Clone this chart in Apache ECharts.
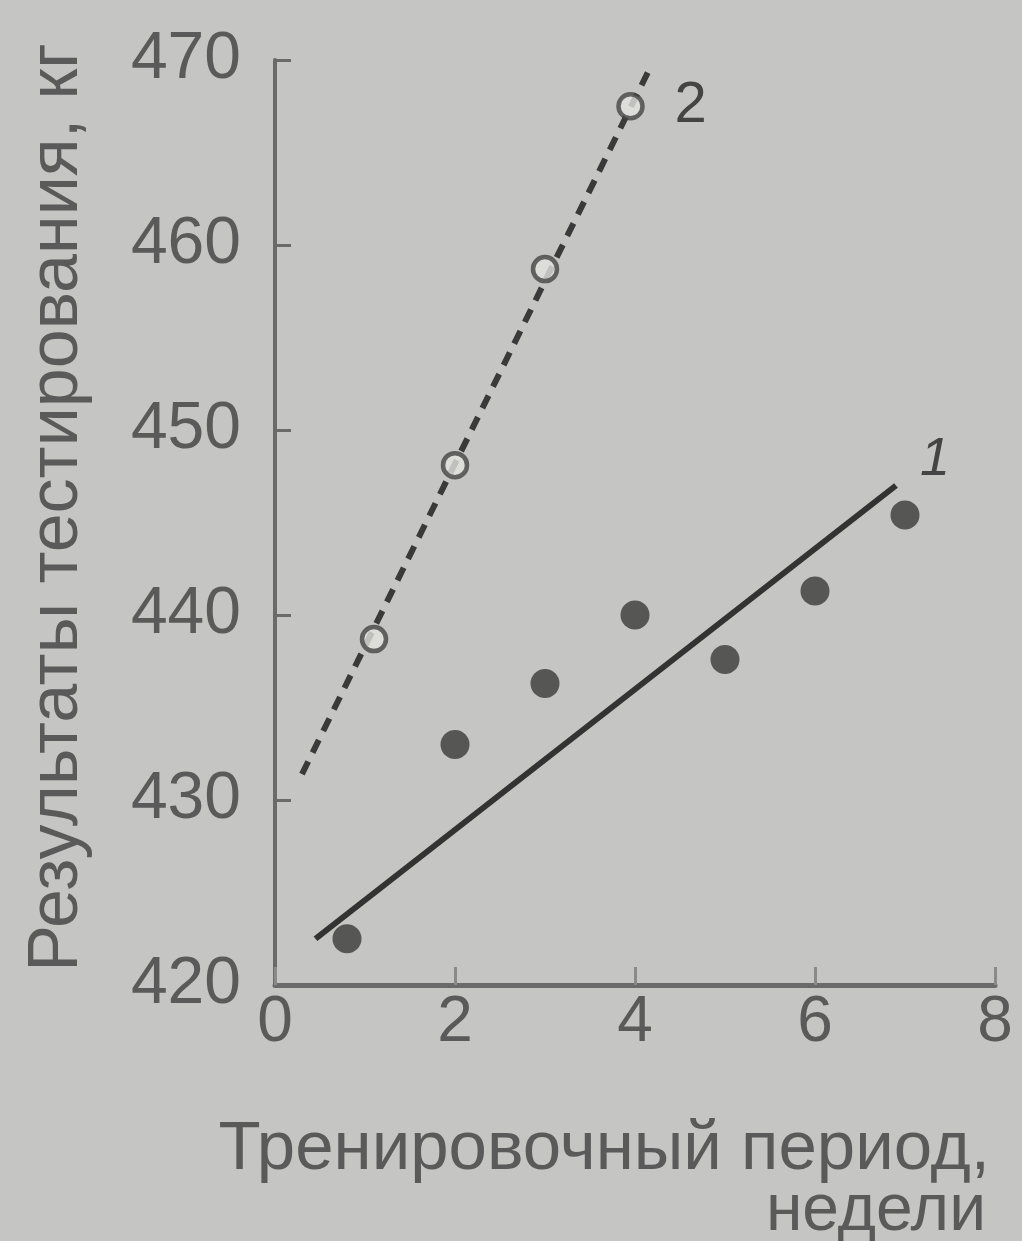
<!DOCTYPE html>
<html>
<head>
<meta charset="utf-8">
<script src="https://cdn.jsdelivr.net/npm/echarts@6/dist/echarts.min.js"></script>
<style>
html,body{margin:0;padding:0;background:#c5c5c3;}
#chart{width:1022px;height:1241px;}
</style>
</head>
<body>
<div id="chart"></div>
<script>
// Data
const xTicks = [0, 2, 4, 6, 8];
const yTicks = [420, 430, 440, 450, 460, 470];

const filledWeeks = [0.8, 2, 3, 4, 5, 6, 7];
const filledValues = [422.5, 433, 436.3, 440, 437.6, 441.3, 445.4];

const openWeeks = [1.1, 2, 3, 3.95];
const openValues = [438.7, 448.1, 458.7, 467.5];

const fit1Weeks = [0.45, 6.9];
const fit1Values = [422.5, 447.0];

const fit2Weeks = [0.3, 4.15];
const fit2Values = [431.4, 469.4];

const curveLabels = ['1', '2'];

const xTitleLines = ['Тренировочный период,', 'недели'];
const yTitle = 'Результаты тестирования, кг';

const textColor = '#5a5a5a';
const inkColor = '#333333';
const axisColor = '#6a6a6a';
const fontFamily = 'Liberation Sans, Arial, sans-serif';

function pairs(xs, ys) { return xs.map((x, i) => [x, ys[i]]); }

const chart = echarts.init(document.getElementById('chart'), null, {renderer: 'canvas'});
chart.setOption({
  backgroundColor: '#c5c5c3',
  animation: false,
  grid: {left: 275, right: 27, top: 60, bottom: 256, containLabel: false, outerBoundsMode: 'none'},
  xAxis: {
    type: 'value', min: xTicks[0], max: xTicks[xTicks.length - 1], interval: 2,
    axisLine: {show: true, onZero: false, lineStyle: {color: axisColor, width: 5}},
    axisTick: {show: true, inside: true, length: 18, lineStyle: {color: '#8a8a8a', width: 3}},
    splitLine: {show: false},
    axisLabel: {fontSize: 64, color: textColor, fontFamily: fontFamily, margin: 6,
      formatter: v => xTicks.includes(v) ? String(v) : ''}
  },
  yAxis: {
    type: 'value', min: yTicks[0], max: yTicks[yTicks.length - 1], interval: 10,
    axisLine: {show: true, onZero: false, lineStyle: {color: axisColor, width: 4}},
    axisTick: {show: true, inside: true, length: 16, lineStyle: {color: axisColor, width: 3}},
    splitLine: {show: false},
    axisLabel: {fontSize: 66, color: textColor, fontFamily: fontFamily, margin: 34,
      verticalAlign: 'middle',
      formatter: v => yTicks.includes(v) ? String(v) : ''},
    name: yTitle,
    nameLocation: 'middle',
    nameGap: 182,
    nameRotate: 90,
    nameTextStyle: {fontSize: 70, color: textColor, fontFamily: fontFamily, padding: [0, 0, 0, 30]}
  },
  graphic: [{
    type: 'text',
    style: {
      x: 990, y: 1150, text: xTitleLines[0], fontSize: 69, fill: textColor, fontFamily: fontFamily,
      align: 'right', verticalAlign: 'middle'
    }
  }, {
    type: 'text',
    style: {
      x: 986, y: 1212, text: xTitleLines[1], fontSize: 66, fill: textColor, fontFamily: fontFamily,
      align: 'right', verticalAlign: 'middle'
    }
  }],
  series: [
    {
      name: 'fit1', type: 'line', data: pairs(fit1Weeks, fit1Values),
      showSymbol: false, symbol: 'none', z: 2,
      lineStyle: {color: inkColor, width: 6},
      endLabel: {show: true, formatter: curveLabels[0], offset: [16, -26], fontSize: 54,
        color: '#444', fontFamily: fontFamily, fontStyle: 'italic'}
    },
    {
      name: 'fit2', type: 'line', data: pairs(fit2Weeks, fit2Values),
      showSymbol: false, symbol: 'none', z: 2,
      lineStyle: {color: '#3a3a3a', width: 6, type: [14, 10]},
      endLabel: {show: true, formatter: curveLabels[1], offset: [18, 35], fontSize: 58,
        color: '#444', fontFamily: fontFamily}
    },
    {
      name: 'filled', type: 'scatter', data: pairs(filledWeeks, filledValues),
      symbol: 'circle', symbolSize: 29, z: 3,
      itemStyle: {color: '#3a3a3a'}
    },
    {
      name: 'open', type: 'scatter', data: pairs(openWeeks, openValues),
      symbol: 'circle', symbolSize: 24, z: 3,
      itemStyle: {color: '#e2e2e0', borderColor: '#444', borderWidth: 4.5}
    }
  ]
});
</script>
</body>
</html>
